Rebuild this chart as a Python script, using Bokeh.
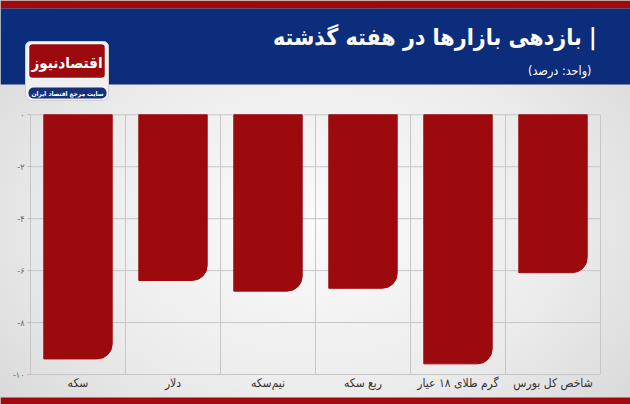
from bokeh.plotting import figure
from bokeh.layouts import column
from bokeh.models import Range1d, FixedTicker, LinearAxis
from bokeh.core.properties import value
from bokeh.embed import file_html
from bokeh.resources import INLINE
import numpy as np

categories = ["سکه", "دلار", "نیم‌سکه", "ربع سکه", "گرم طلای ۱۸ عیار", "شاخص کل بورس"]
values = [-9.40, -6.38, -6.79, -6.68, -9.59, -6.08]
y_ticks = [0, -2, -4, -6, -8, -10]
y_tick_labels = ["۰", "-۲", "-۴", "-۶", "-۸", "-۱۰"]
title_text = "بازدهی بازارها در هفته گذشته |"
subtitle_text = "(واحد: درصد)"
logo_text = "اقتصادنیوز"
logo_sub = "سایت مرجع اقتصاد ایران"

FONT = "DejaVu Sans Condensed"
W, H = 630, 404

# plot-area placement (pixels inside the canvas)
PL, PR, PT, PB = 30.0, 600.0, 114.3, 374.0
n = len(categories)
ymin, ymax = min(y_ticks), max(y_ticks)
ux = (PR - PL) / n
uy = (PB - PT) / (ymax - ymin)
x_range = Range1d(0 - PL / ux, n + (W - PR) / ux)
y_range = Range1d(ymin - (H - PB) / uy, ymax + PT / uy)

p = figure(width=W, height=H, output_backend="svg", toolbar_location=None,
           x_range=x_range, y_range=y_range, min_border=0,
           x_axis_type=None, y_axis_type=None)
p.extra_x_ranges = {"px": Range1d(0, W)}
p.extra_y_ranges = {"px": Range1d(H, 0)}
p.background_fill_alpha = 0
p.border_fill_alpha = 0
p.outline_line_color = None
p.grid.visible = False

xs = np.arange(n) + 0.5

# grid lines of the plot area
GRID = "#c6c6c6"
p.segment(x0=0, x1=n, y0=y_ticks, y1=y_ticks, line_color=GRID, line_width=1)
p.segment(x0=list(range(n + 1)), x1=list(range(n + 1)), y0=ymin, y1=ymax,
          line_color=GRID, line_width=1)

# bars
p.vbar(x=xs, width=0.72, top=0, bottom=values, color="#9c0a0e",
       border_radius=(0, 0, 15, 0))

# axes fixed at the plot-area edges
yax = LinearAxis(fixed_location=0, ticker=FixedTicker(ticks=y_ticks),
                 major_label_overrides={t: l for t, l in zip(y_ticks, y_tick_labels)})
yax.major_label_text_font = FONT
yax.major_label_text_font_size = "9px"
yax.major_label_text_color = "#666666"
yax.axis_line_color = None
yax.major_tick_in = 0
yax.major_tick_out = 3
yax.major_tick_line_color = "#bbbbbb"
yax.minor_tick_line_color = None
yax.major_label_standoff = 3
p.add_layout(yax, "left")

xax = LinearAxis(fixed_location=ymin, ticker=FixedTicker(ticks=list(xs)),
                 major_label_overrides={float(x): c for x, c in zip(xs, categories)})
xax.major_label_text_font = FONT
xax.major_label_text_font_size = "12px"
xax.major_label_text_color = "#333333"
xax.axis_line_color = None
xax.major_tick_line_color = None
xax.minor_tick_line_color = None
xax.major_tick_in = 0
xax.major_tick_out = 0
xax.major_label_standoff = 1
p.add_layout(xax, "below")

# header and footer bands (pixel ranges)
kw = dict(x_range_name="px", y_range_name="px")
p.quad(left=[0, 0], right=[W, W], top=[0, 397], bottom=[8, H],
       fill_color="#a00a0e", line_color=None, **kw)
p.quad(left=[0], right=[W], top=[8], bottom=[84], fill_color="#0c2d7b", line_color=None, **kw)
p.text(x=[596], y=[36], text=[title_text], text_font=value(FONT), text_font_style="bold",
       text_font_size="23px", text_color="white", text_align="right",
       text_baseline="middle", **kw)
p.text(x=[591], y=[70], text=[subtitle_text], text_font=value(FONT),
       text_font_size="12.5px", text_color="white", text_align="right",
       text_baseline="middle", **kw)

# logo
p.quad(left=[25], right=[108], top=[41], bottom=[100], fill_color="#f0f0f0",
       line_color="#d0d0d0", border_radius=5, **kw)
p.quad(left=[28], right=[105], top=[43], bottom=[78], fill_color="#9c0a0e",
       line_color="white", line_width=1.5, border_radius=4, **kw)
p.text(x=[66.5], y=[62], text=[logo_text], text_font=value(FONT), text_font_style="bold",
       text_font_size="15px", text_color="white", text_align="center",
       text_baseline="middle", **kw)
p.quad(left=[28], right=[106], top=[87], bottom=[98], fill_color="#17307a",
       line_color=None, border_radius=5, **kw)
p.text(x=[67], y=[93.5], text=[logo_sub], text_font=value(FONT), text_font_style="bold",
       text_font_size="6.5px", text_color="white", text_align="center",
       text_baseline="middle", **kw)

layout = column(p, spacing=0,
                styles={"background": "radial-gradient(ellipse at 50% 55%, #fbfbfb 0%, #ececec 55%, #d4d4d4 100%)"})

open("out.html", "w").write(file_html(layout, INLINE))
